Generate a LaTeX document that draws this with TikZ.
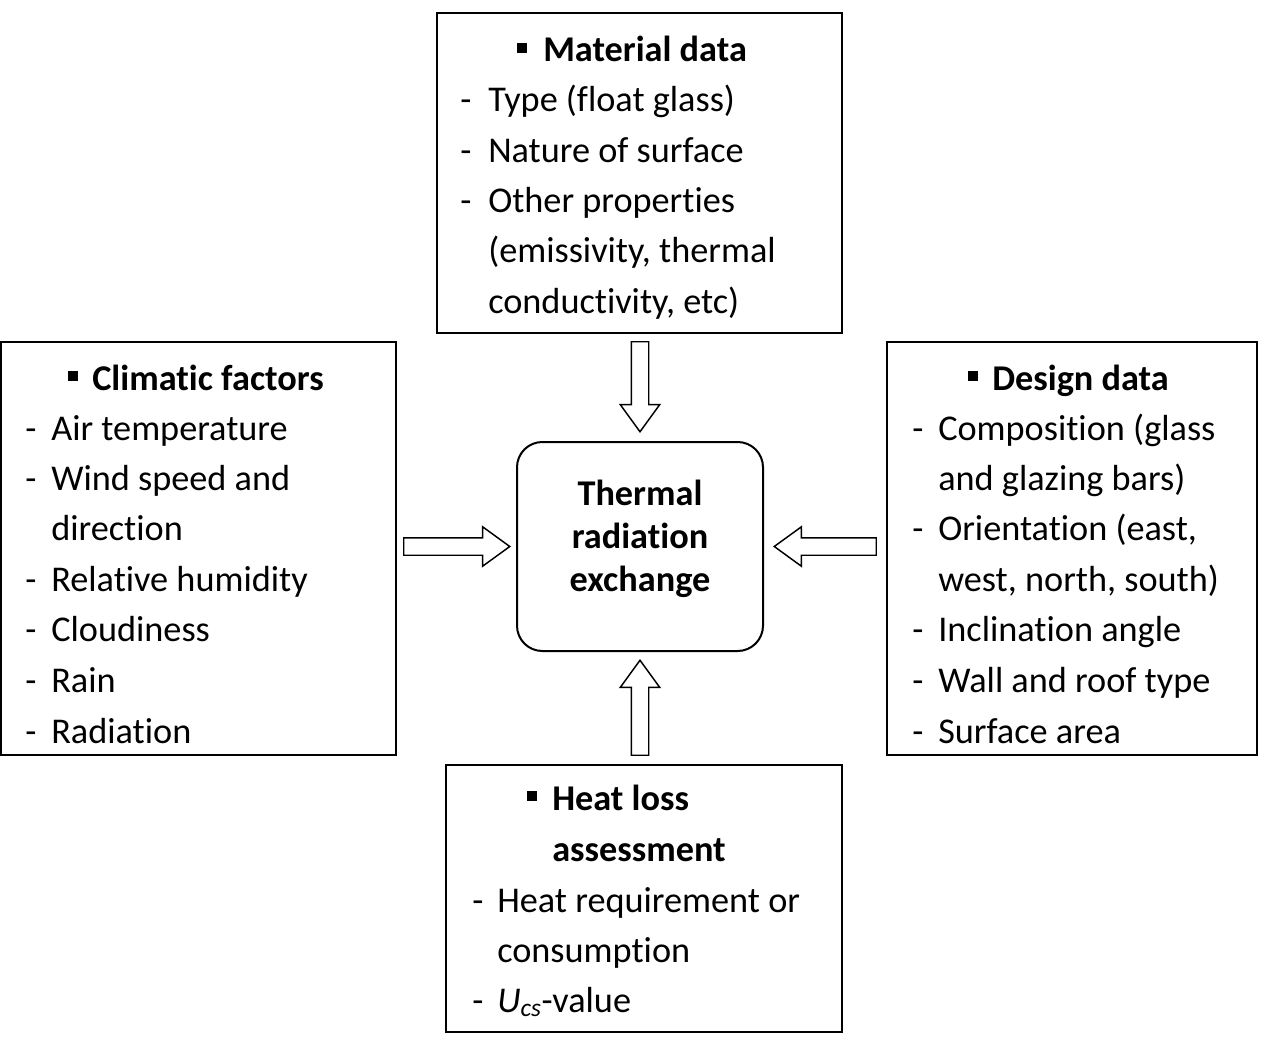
\documentclass[tikz,border=0pt]{standalone}
\usepackage{fontspec}
\setmainfont{Carlito}[Ligatures=NoCommon]
\usetikzlibrary{shapes.arrows,fit,calc}
\newcommand\lstitem[5]{%
  \node[txt] (#1d) at (#2,#4) {-};
  \node[txt] (#1) at (#3,#4) {#5};}
\newcommand\sqmark[3]{%
  \node[sqb] (#1) at (#2,#3) {};}
\begin{document}
\begin{tikzpicture}[x=0.75pt,y=-0.75pt,
  box/.style={draw, line width=1.5pt, inner sep=0pt},
  txt/.style={anchor=base west, inner sep=0pt, font=\fontsize{27.2}{32}\selectfont},
  ttl/.style={txt, font=\fontsize{27.2}{32}\selectfont\bfseries},
  sqb/.style={fill=black, inner sep=0pt, minimum size=7pt, anchor=south west, yshift=6.75pt},
  harrow/.style={draw, line width=1.1pt, single arrow, inner sep=6pt, anchor=tip,
    single arrow head extend=8.25pt, single arrow tip angle=72}]
\useasboundingbox (0,0) rectangle (1263,1038);
% boxes
\node[box, fit={(437,13) (842,333)}] (mat) {};
\node[box, fit={(1,342) (396,755)}] (clim) {};
\node[box, fit={(887,342) (1257,755)}] (des) {};
\node[box, fit={(446,765) (842,1032)}] (heat) {};
\node[box, rounded corners=19pt, fit={(517,442) (763,651)}] (ctr) {};
% arrows
\node[harrow, shape border rotate=270, minimum height=67.5pt] (a1) at ($(ctr.north)+(0,-8)$) {};
\node[harrow, shape border rotate=0, minimum height=79.5pt] (a2) at ($(ctr.west)+(-5,0)$) {};
\node[harrow, shape border rotate=180, minimum height=76.5pt] (a3) at ($(ctr.east)+(9,0)$) {};
\node[harrow, shape border rotate=90, minimum height=71.25pt] (a4) at ($(ctr.south)+(0,7)$) {};
% centre text
\node[ttl, anchor=base] (c1) at (640,505) {Thermal};
\node[ttl, anchor=base] (c2) at (640,548) {radiation};
\node[ttl, anchor=base] (c3) at (640,591) {exchange};
% material
\sqmark{msq}{517}{62}
\node[ttl] (mt) at (543,62) {Material data};
\lstitem{m1}{460}{488}{112}{Type (float glass)}
\lstitem{m2}{460}{488}{162}{Nature of surface}
\lstitem{m3}{460}{488}{212}{Other properties}
\node[txt] (m4) at (488,262) {(emissivity, thermal};
\node[txt] (m5) at (488,313) {conductivity, etc)};
% climatic
\sqmark{csq}{68}{390}
\node[ttl] (ct) at (92,390) {Climatic factors};
\lstitem{k1}{25}{51}{440}{Air temperature}
\lstitem{k2}{25}{51}{490}{Wind speed and}
\node[txt] (k3) at (51,540) {direction};
\lstitem{k4}{25}{51}{591}{Relative humidity}
\lstitem{k5}{25}{51}{641}{Cloudiness}
\lstitem{k6}{25}{51}{692}{Rain}
\lstitem{k7}{25}{51}{743}{Radiation}
% design
\sqmark{dsq}{968}{390}
\node[ttl] (dt) at (992,390) {Design data};
\lstitem{d1}{912}{938}{440}{Composition (glass}
\node[txt] (d2) at (938,490) {and glazing bars)};
\lstitem{d3}{912}{938}{540}{Orientation (east,}
\node[txt] (d4) at (938,591) {west, north, south)};
\lstitem{d5}{912}{938}{641}{Inclination angle}
\lstitem{d6}{912}{938}{692}{Wall and roof type}
\lstitem{d7}{912}{938}{743}{Surface area}
% heat loss
\sqmark{hsq}{527}{810}
\node[ttl] (ht) at (552,810) {Heat loss};
\node[ttl] (ht2) at (552,861) {assessment};
\lstitem{h1}{472}{497}{912}{Heat requirement or}
\node[txt] (h2) at (497,962) {consumption};
\lstitem{h3}{472}{497}{1012}{\textit{U}\textsubscript{\textit{cs}}-value}
\end{tikzpicture}
\end{document}
